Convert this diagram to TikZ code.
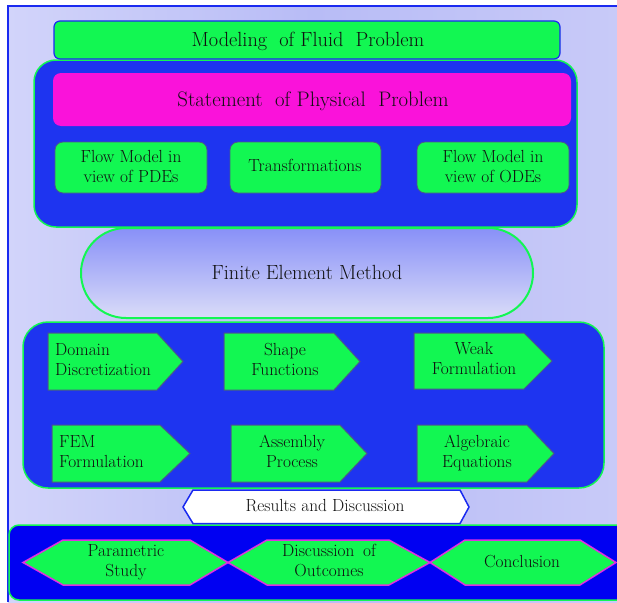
\documentclass[tikz,border=0pt]{standalone}
\definecolor{bgc}{HTML}{C8CAF8}
\definecolor{bgd}{HTML}{B8BCF6}
\definecolor{bgl}{HTML}{D2D4FA}
\definecolor{grc}{HTML}{12F752}
\definecolor{blc}{HTML}{1E34F0}
\definecolor{mgc}{HTML}{FA12DA}
\definecolor{bbc}{HTML}{0000F2}
\definecolor{framec}{HTML}{1A2AF0}
\definecolor{edgec}{HTML}{4A5A88}
\definecolor{hexc}{HTML}{E030E0}
\definecolor{txtc}{HTML}{101010}
\definecolor{fetop}{HTML}{8890F8}
\definecolor{febot}{HTML}{DADCF8}
\newcommand\ctext[2]{\scalebox{0.99}[1]{\begin{tabular}{@{}#1@{}}#2\end{tabular}}}
\begin{document}
\begin{tikzpicture}[x=1pt,y=-1pt,
  txt/.style={text=txtc,inner sep=0pt,font=\fontsize{17.5}{20}\selectfont},
  bigtxt/.style={text=txtc,inner sep=0pt,font=\fontsize{20.5}{24}\selectfont},
  bluebox/.style={fill=blc,draw=grc,line width=1.5pt},
  greenbox/.style={fill=grc,draw=edgec,line width=0.8pt,rounded corners=8pt},
  arrowbox/.style={fill=grc,draw=edgec,line width=1pt},
  hexbox/.style={fill=grc,draw=hexc,line width=1.5pt}]
\clip (0,0) rectangle (617,602);
% background
\fill[white] (0,0) rectangle (617,602);
\shade[left color=bgl,right color=bgc,middle color=bgd] (8,6) rectangle (618,603);
\draw[framec,line width=1.5pt] (8,602) -- (8,6) -- (617,6);
% upper block
\draw[bluebox,rounded corners=22pt] (34,60) rectangle (577,227);
\draw[fill=grc,draw=framec,line width=1.2pt,rounded corners=6pt] (54,21) rectangle (560,59);
\node[bigtxt] (model) at (308,41.5) {\ctext{c}{Modeling\hspace{0.6em}of Fluid\hspace{0.6em}Problem}};
\fill[mgc,rounded corners=8pt] (53,73) rectangle (571,126);
\node[bigtxt,font=\fontsize{21}{24}\selectfont] (stat) at (313,102) {\ctext{c}{Statement\hspace{0.6em}of Physical\hspace{0.6em}Problem}};
\draw[greenbox] (55,142) rectangle (207,193);
\draw[greenbox] (230,142) rectangle (381,193);
\draw[greenbox] (417,142) rectangle (569,193);
\node[txt] (pde) at (131,168.5) {\ctext{c}{Flow Model in\\view of PDEs}};
\node[txt] (trans) at (305,167.5) {\ctext{c}{Transformations}};
\node[txt] (ode) at (493,168.5) {\ctext{c}{Flow Model in\\view of ODEs}};
% FEM stadium
\draw[draw=grc,line width=2pt,top color=fetop,bottom color=febot,rounded corners=45pt] (81,228) rectangle (533,318);
\node[bigtxt] (fem) at (307,275) {\ctext{c}{Finite Element Method}};
% middle block
\draw[bluebox,rounded corners=25pt] (23,322) rectangle (604,488);
\draw[arrowbox] (48,333) -- (157,333) -- (183,361.5) -- (157,390) -- (48,390) -- cycle;
\draw[arrowbox] (224,333) -- (334,333) -- (360,361.5) -- (334,390) -- (224,390) -- cycle;
\draw[arrowbox] (414,333) -- (524,333) -- (552,361) -- (524,389) -- (414,389) -- cycle;
\draw[arrowbox] (52,425) -- (160,425) -- (190,453.5) -- (160,482) -- (52,482) -- cycle;
\draw[arrowbox] (231,425) -- (340,425) -- (367,453.5) -- (340,482) -- (231,482) -- cycle;
\draw[arrowbox] (417,425) -- (527,425) -- (554,453.5) -- (527,482) -- (417,482) -- cycle;
\node[txt,anchor=west] (dom) at (55,361) {\ctext{l}{Domain\\Discretization}};
\node[txt] (shape) at (285,361) {\ctext{c}{Shape\\Functions}};
\node[txt] (weak) at (474,360.5) {\ctext{c}{Weak\\Formulation}};
\node[txt,anchor=west] (femf) at (59,453) {\ctext{l}{FEM\\Formulation}};
\node[txt] (assem) at (292,453) {\ctext{c}{Assembly\\Process}};
\node[txt] (alg) at (477,453) {\ctext{c}{Algebraic\\Equations}};
% bottom block
\draw[fill=bbc,draw=grc,line width=1.5pt,rounded corners=10pt] (9,525) rectangle (640,600);
\draw[fill=white,draw=framec,line width=1.5pt] (183,507) -- (193,490) -- (460,490) -- (469,507) -- (460,523.5) -- (193,523.5) -- cycle;
\node[txt] (res) at (325,507) {\ctext{c}{Results and Discussion}};
\draw[hexbox] (23,562.5) -- (63,540) -- (190,540) -- (228,562.5) -- (190,585) -- (63,585) -- cycle;
\draw[hexbox] (228,562.5) -- (267,540) -- (389,540) -- (430,562.5) -- (389,585) -- (267,585) -- cycle;
\draw[hexbox] (430,562.5) -- (465,540) -- (580,540) -- (616,562.5) -- (580,585) -- (465,585) -- cycle;
\node[txt] (param) at (126,562.5) {\ctext{c}{Parametric\\Study}};
\node[txt] (disc) at (329,562.5) {\ctext{c}{Discussion\hspace{0.5em}of\\Outcomes}};
\node[txt] (concl) at (522,563) {\ctext{c}{Conclusion}};
\end{tikzpicture}
\end{document}
